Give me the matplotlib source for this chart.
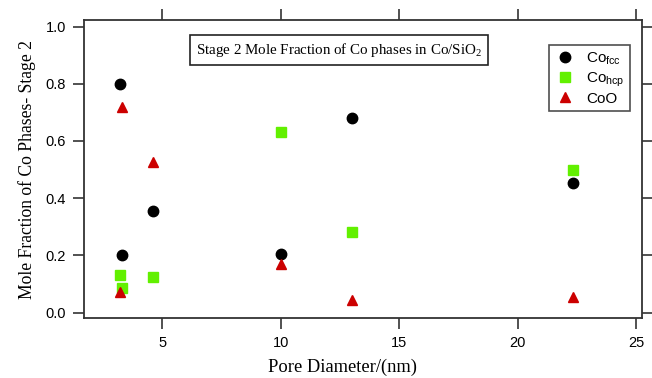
import matplotlib
matplotlib.use('Agg')
import matplotlib.pyplot as plt

# sample pore diameters (nm) and phase fractions for stage 2
pore = [3.2, 3.3, 4.6, 10.0, 13.0, 22.35]
co_fcc = [0.80, 0.20, 0.355, 0.205, 0.68, 0.452]
co_hcp = [0.13, 0.085, 0.125, 0.63, 0.28, 0.50]
co_o = [0.073, 0.72, 0.525, 0.17, 0.044, 0.055]

xticks = [5, 10, 15, 20, 25]
yticks = [0.0, 0.2, 0.4, 0.6, 0.8, 1.0]

sans = ['Liberation Sans', 'DejaVu Sans']
serif = ['Liberation Serif', 'DejaVu Serif']

fig = plt.figure(figsize=(6.52, 3.78), dpi=100)
ax = fig.add_axes([0.1288, 0.158, 0.8559, 0.789])

ax.plot(pore, co_fcc, 'o', color='black', ms=7.5, label='Co$_{\\mathregular{fcc}}$')
ax.plot(pore, co_hcp, 's', color='#62f000', ms=7, label='Co$_{\\mathregular{hcp}}$')
ax.plot(pore, co_o, '^', color='#cc0000', ms=7.5, label='CoO')

ax.set_xlim(1.7, 25.25)
ax.set_ylim(-0.02, 1.023)
ax.set_xticks(xticks)
ax.set_yticks(yticks)
ax.set_yticklabels(['%.1f' % v for v in yticks])

ax.tick_params(direction='out', length=8, width=1.2, color='#333333',
               top=True, right=True, labelsize=10.5, pad=5)
for lab in ax.get_xticklabels() + ax.get_yticklabels():
    lab.set_family(sans)
for s in ax.spines.values():
    s.set_linewidth(1.3)
    s.set_color('#333333')

ax.set_xlabel('Pore Diameter/(nm)', family=serif, fontsize=13.3)
ax.xaxis.set_label_coords(0.464, -0.135)
ax.set_ylabel('Mole Fraction of Co Phases- Stage 2', family=serif, fontsize=12.7, labelpad=7)

ax.text(0.457, 0.898, 'Stage 2 Mole Fraction of Co phases in Co/SiO$_{\\mathregular{2}}$',
        transform=ax.transAxes, ha='center', va='center', family=serif, fontsize=10.8,
        bbox=dict(boxstyle='square,pad=0.4', fc='white', ec='#222222', lw=1.2))

leg = ax.legend(loc='upper right', bbox_to_anchor=(0.9785, 0.916), borderaxespad=0,
                prop={'family': sans, 'size': 11},
                frameon=True, fancybox=False, edgecolor='#222222', handlelength=1.4,
                handletextpad=0.7, labelspacing=0.2, borderpad=0.35, numpoints=1)
leg.get_frame().set_linewidth(1.2)

fig.savefig('out.png', dpi=100)
plt.close()
